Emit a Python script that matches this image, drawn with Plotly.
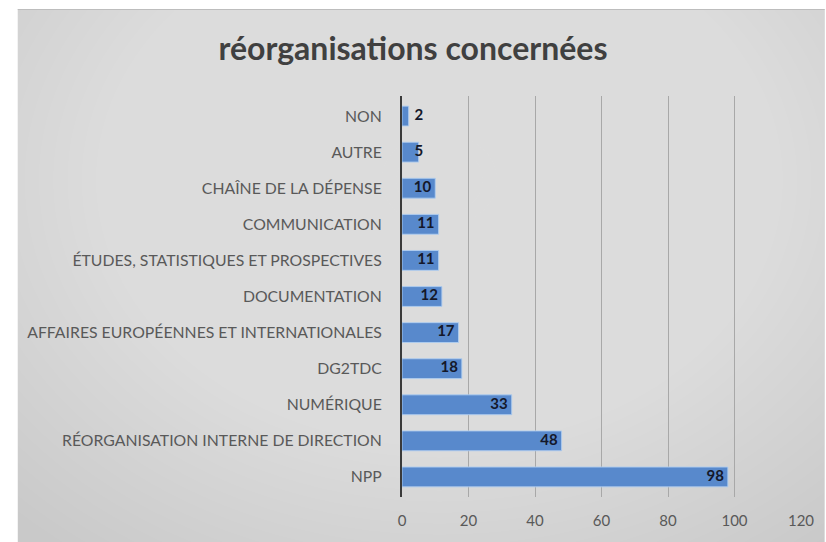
import plotly.graph_objects as go

categories = ["NON", "AUTRE", "CHAÎNE DE LA DÉPENSE", "COMMUNICATION",
              "ÉTUDES, STATISTIQUES ET PROSPECTIVES", "DOCUMENTATION",
              "AFFAIRES EUROPÉENNES ET INTERNATIONALES", "DG2TDC", "NUMÉRIQUE",
              "RÉORGANISATION INTERNE DE DIRECTION", "NPP"]
values = [2, 5, 10, 11, 11, 12, 17, 18, 33, 48, 98]
title_text = "réorganisations concernées"
x_ticks = [0, 20, 40, 60, 80, 100, 120]

W, H = 826, 542
L, R, T, B = 402, 19, 96, 45
pw, ph = W - L - R, H - T - B

def px_x(p):
    return (p - L) / pw

def px_y(p):
    return (H - B - p) / ph

shapes = []
# panel background (gray) with a soft radial highlight
shapes.append(dict(type="rect", xref="paper", yref="paper", layer="below",
                   x0=px_x(12), x1=px_x(W + 5), y0=px_y(H + 5), y1=px_y(9),
                   fillcolor="#c9c9c9", line=dict(width=0)))
cx, cy = 440, 180
n = 40
for i in range(n):
    f = 1 - i / n
    rx, ry = 580 * f + 30, 440 * f + 25
    shapes.append(dict(type="circle", xref="paper", yref="paper", layer="below",
                       x0=px_x(cx - rx), x1=px_x(cx + rx),
                       y0=px_y(cy + ry), y1=px_y(cy - ry),
                       fillcolor="rgba(255,255,255,0.029)", line=dict(width=0)))
# top edge subtle line
shapes.append(dict(type="line", xref="paper", yref="paper", layer="below",
                   x0=px_x(12), x1=px_x(W + 5), y0=px_y(9.5), y1=px_y(9.5),
                   line=dict(color="#bdbdbd", width=1)))

label_x = [max(v - 1.2, 6.4) for v in values]

fig = go.Figure()
fig.add_trace(go.Bar(
    y=categories, x=values, orientation="h",
    marker=dict(color="rgb(88,137,204)", line=dict(color="rgba(175,205,240,0.9)", width=1)),
    hoverinfo="x+y",
))
fig.add_trace(go.Scatter(
    y=categories, x=label_x, mode="text", text=[str(v) for v in values],
    textposition="middle left",
    textfont=dict(family="Lato", size=15, color="#14182a", weight="bold"),
    hoverinfo="skip", cliponaxis=False,
))

fig.update_layout(
    width=W, height=H,
    margin=dict(l=L, r=R, t=T, b=B),
    paper_bgcolor="white", plot_bgcolor="rgba(0,0,0,0)",
    showlegend=False, bargap=0.45,
    shapes=shapes,
    title=dict(text=title_text, x=0.5, xanchor="center", xref="container",
               y=1 - 49 / H, yanchor="middle", yref="container",
               font=dict(family="Lato", size=32, color="#404040", weight="bold")),
    xaxis=dict(range=[0, 120], tickvals=x_ticks, showgrid=True, gridcolor="#a8a8a8",
               gridwidth=1, zeroline=False, showline=False, ticks="",
               ticklabelstandoff=13,
               tickfont=dict(family="Lato", size=15, color="#595959")),
    yaxis=dict(categoryorder="array", categoryarray=categories[::-1],
               showline=True, linecolor="#3a3a3a", linewidth=2, ticks="",
               ticklabelstandoff=15, showgrid=False,
               tickfont=dict(family="Lato", size=15.8, color="#595959")),
)

fig.write_html("out.html")
